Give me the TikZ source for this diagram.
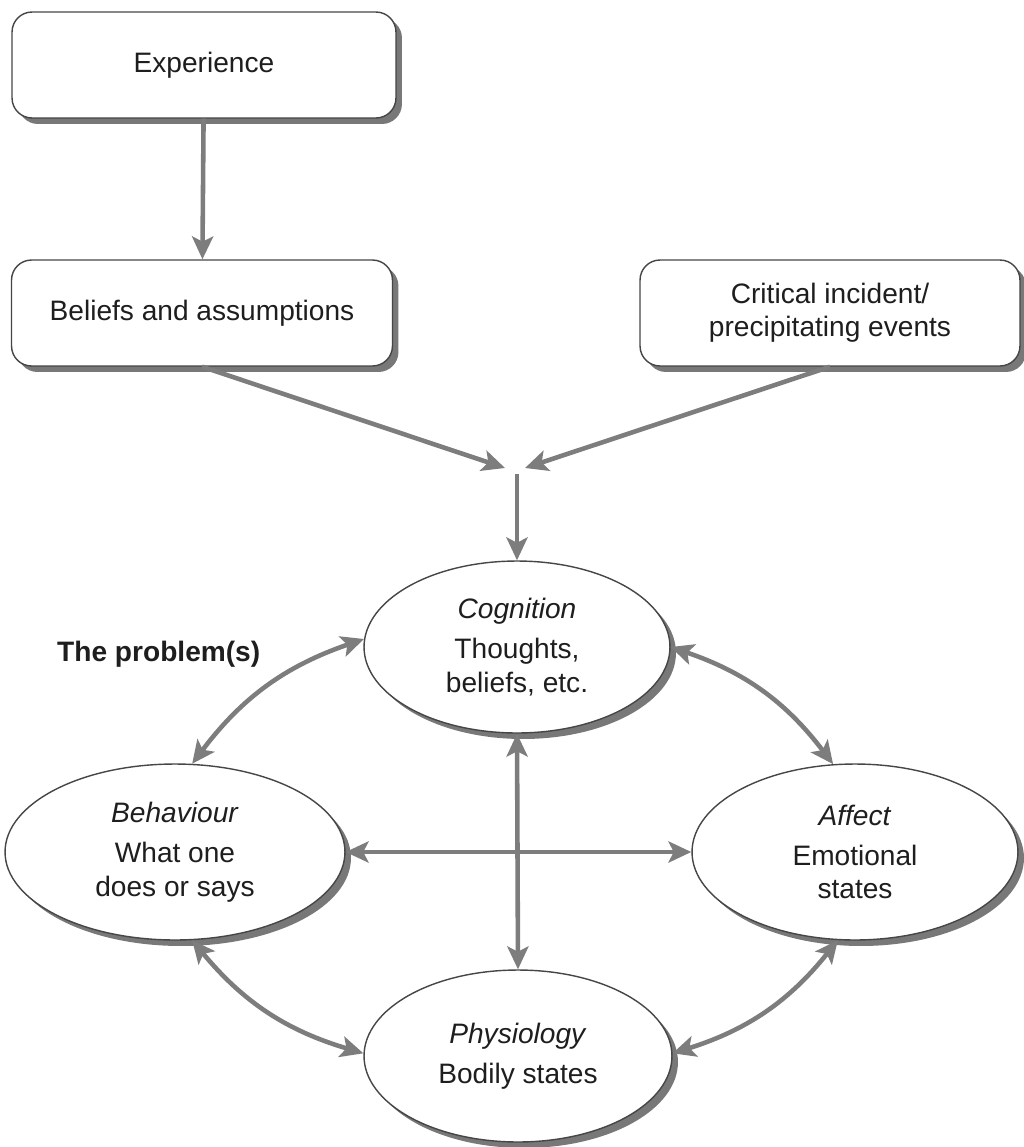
\documentclass[tikz,border=0pt]{standalone}
\usepackage{fontspec}
\setmainfont{Liberation Sans}
\usetikzlibrary{arrows.meta,shapes.geometric,shadows}
\definecolor{arrcol}{RGB}{125,125,125}
\definecolor{txtcol}{RGB}{30,30,30}
\definecolor{bordcol}{RGB}{70,70,70}
\definecolor{shadcol}{RGB}{120,120,120}
\begin{document}
\begin{tikzpicture}[x=0.02cm,y=-0.02cm,
  every node/.style={font=\fontsize{16}{19}\selectfont, text=txtcol},
  shad/.style={drop shadow={shadow xshift=0.12cm, shadow yshift=-0.12cm, fill=shadcol, opacity=1}},
  rbox/.style={draw=bordcol, line width=0.8pt, fill=white, rounded corners=0.4cm, align=center,
    minimum height=2.12cm, inner sep=0pt, shad},
  oval/.style={ellipse, draw=bordcol, line width=0.8pt, fill=white, align=center, inner sep=0pt, shad},
  tip/.style={Stealth[length=13pt,width=12pt,inset=3pt]},
  arr/.style={draw=arrcol, line width=2.6pt, -{Stealth[length=13pt,width=12pt,inset=3pt]}},
  darr/.style={draw=arrcol, line width=2.6pt, {Stealth[length=13pt,width=12pt,inset=3pt]}-{Stealth[length=13pt,width=12pt,inset=3pt]}}
]
\useasboundingbox (0,0) rectangle (1024,1147);

% boxes
\node[rbox, minimum width=7.68cm] (exp) at (204,65) {Experience};
\node[rbox, minimum width=7.62cm] (bel) at (202,313) {Beliefs and assumptions};
\node[rbox, minimum width=7.60cm] (crit) at (830,313) {Critical incident/\\precipitating events};

% ellipses
\node[oval, minimum width=6.12cm, minimum height=3.44cm] (cog) at (517,647)
  {\textit{Cognition}\\[4pt]Thoughts,\\beliefs, etc.};
\node[oval, minimum width=6.8cm, minimum height=3.52cm] (beh) at (175,852)
  {\textit{Behaviour}\\[4pt]What one\\does or says};
\node[oval, minimum width=6.52cm, minimum height=3.52cm] (aff) at (855,852)
  {\textit{Affect}\\[4pt]Emotional\\states};
\node[oval, minimum width=6.16cm, minimum height=3.44cm] (phys) at (518,1056)
  {\textit{Physiology}\\[4pt]Bodily states};

\node[font=\fontsize{16}{19}\selectfont\bfseries, anchor=west] (prob) at (51,654) {The problem(s)};

% merge point
\coordinate (mL) at (505,468);
\coordinate (mR) at (525,468);
\coordinate (mD) at (517,474);

% connectors
\draw[arr] (exp) -- (bel);
\draw[arr] (bel.south) -- (mL);
\draw[arr] (crit.south) -- (mR);
\draw[arr] (mD) -- (cog.north);

\draw[darr] (cog.177) to[bend right=17] (beh.79);
\draw[darr] (cog.0) to[bend left=17] (aff.104);
\draw[darr] (beh.281) to[bend right=17] (phys.179);
\draw[darr] (aff.259) to[bend left=17] (phys.1);
\draw[darr] (cog.south) -- (phys.north);
\draw[darr] (beh.east) -- (aff.west);
\end{tikzpicture}
\end{document}
